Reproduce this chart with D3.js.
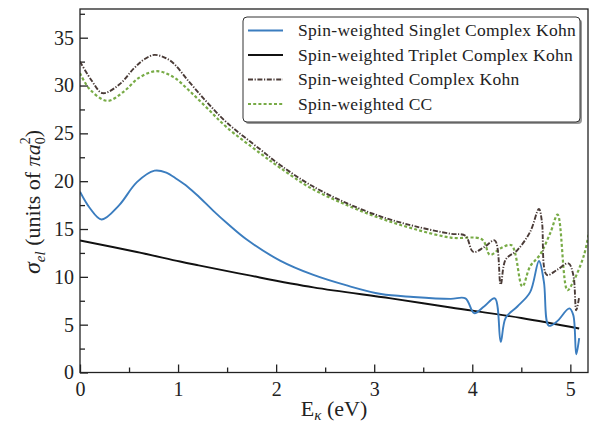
<!DOCTYPE html>
<html>
<head>
<meta charset="utf-8">
<script src="https://cdn.jsdelivr.net/npm/d3@7"></script>
<style>
  body { margin: 0; background: #fff; }
  svg text { font-family: "Liberation Serif", "DejaVu Serif", serif; fill: #222; }
</style>
</head>
<body>
<div id="chart"></div>
<script>
// energies (eV) and cross sections (units of pi a0^2)
const singletE = [0, 0.1, 0.22, 0.4, 0.58, 0.76, 0.88, 0.99, 1.1, 1.22, 1.36, 1.5, 1.7, 2.04, 2.38, 2.72, 3.07, 3.4, 3.78, 3.93, 4.02, 4.12, 4.23, 4.29, 4.34, 4.46, 4.59, 4.68, 4.73, 4.78, 4.86, 4.99, 5.03, 5.06, 5.09]
const singletSigma = [18.9, 17.2, 16.0, 17.5, 19.9, 21.1, 20.9, 20.2, 19.4, 18.3, 16.9, 15.6, 13.9, 11.7, 10.2, 9.1, 8.2, 7.9, 7.7, 7.75, 6.2, 6.9, 7.75, 3.2, 5.7, 6.9, 8.4, 11.65, 9.5, 4.9, 5.3, 6.7, 6.0, 1.9, 3.6]

const tripletE = [0, 0.58, 1.02, 1.21, 1.7, 2.38, 3.17, 3.78, 4.5, 5.09]
const tripletSigma = [13.8, 12.6, 11.6, 11.2, 10.2, 8.9, 7.75, 6.8, 5.7, 4.6]

const kohnE = [0, 0.12, 0.23, 0.4, 0.55, 0.65, 0.76, 0.92, 1.12, 1.3, 1.5, 1.84, 2.04, 2.35, 2.72, 3.07, 3.41, 3.78, 3.93, 4.01, 4.12, 4.23, 4.29, 4.34, 4.46, 4.59, 4.68, 4.71, 4.76, 4.86, 4.98, 5.03, 5.06, 5.09]
const kohnSigma = [32.5, 30.5, 29.2, 30.1, 31.8, 32.7, 33.2, 32.6, 30.3, 28.2, 26.1, 23.3, 21.7, 19.6, 17.7, 16.3, 15.3, 14.5, 14.3, 12.6, 13.1, 13.8, 9.2, 11.8, 12.8, 14.7, 17.1, 15.8, 10.2, 10.7, 11.4, 10.2, 6.5, 7.9]

const ccE = [0, 0.1, 0.28, 0.45, 0.6, 0.78, 0.95, 1.12, 1.3, 1.5, 1.84, 2.04, 2.35, 2.72, 3.07, 3.41, 3.78, 4.1, 4.18, 4.29, 4.4, 4.51, 4.59, 4.69, 4.8, 4.87, 4.97, 5.03, 5.14, 5.19]
const ccSigma = [31.3, 29.6, 28.4, 29.4, 30.8, 31.5, 30.9, 29.4, 27.6, 25.6, 22.9, 21.4, 19.3, 17.5, 16.1, 15.0, 14.1, 13.9, 12.3, 13.0, 13.3, 9.0, 11.1, 12.3, 14.7, 16.5, 8.6, 9.5, 12.3, 14.7]

const seriesNames = ["Spin-weighted Singlet Complex Kohn", "Spin-weighted Triplet Complex Kohn", "Spin-weighted Complex Kohn", "Spin-weighted CC"]
const seriesColors = ["#3b7dbf", "#111111", "#4a3b37", "#78ab46"]
const seriesDash = [null, null, "5,1.6,1.2,1.6", "3,2.2"]

const xTicks = [0, 1, 2, 3, 4, 5]
const xMinor = [0.5, 1.5, 2.5, 3.5, 4.5]
const yTicks = [0, 5, 10, 15, 20, 25, 30, 35]
const yMinor = [2.5, 7.5, 12.5, 17.5, 22.5, 27.5, 32.5, 37.5]

const W = 593, H = 423
const margin = {top: 9, right: 5, bottom: 50.5, left: 80}
const width = W - margin.left - margin.right
const height = H - margin.top - margin.bottom

const svg = d3.select("#chart").append("svg")
  .attr("width", W)
  .attr("height", H)

const g = svg.append("g").attr("transform", `translate(${margin.left},${margin.top})`)

const x = d3.scaleLinear().domain([0, 5.18]).range([0, width])
const y = d3.scaleLinear().domain([0, 38]).range([height, 0])

// clip
svg.append("defs").append("clipPath").attr("id", "clip")
  .append("rect").attr("width", width).attr("height", height)

// axes, ticks pointing in
const xAxis = g.append("g").attr("transform", `translate(0,${height})`)
  .call(d3.axisBottom(x).tickValues(xTicks).tickSize(-8).tickPadding(7).tickFormat(d3.format("d")))
const xAxisMinor = g.append("g").attr("transform", `translate(0,${height})`)
  .call(d3.axisBottom(x).tickValues(xMinor).tickSize(-5).tickFormat(""))
const yAxis = g.append("g")
  .call(d3.axisLeft(y).tickValues(yTicks).tickSize(-8).tickPadding(6).tickFormat(d3.format("d")))
const yAxisMinor = g.append("g")
  .call(d3.axisLeft(y).tickValues(yMinor).tickSize(-5).tickFormat(""))

g.selectAll(".domain").remove()
g.selectAll(".tick line").attr("stroke", "#222").attr("stroke-width", 1.3)
g.selectAll(".tick text").attr("font-size", "20px").attr("fill", "#222")
xAxis.selectAll(".tick text").attr("dy", "0.8em")

// lines
const seriesData = [
  d3.zip(singletE, singletSigma),
  d3.zip(tripletE, tripletSigma),
  d3.zip(kohnE, kohnSigma),
  d3.zip(ccE, ccSigma)
]
const line = d3.line()
  .x(d => x(d[0]))
  .y(d => y(d[1]))
  .curve(d3.curveCatmullRom.alpha(0.5))

const drawOrder = [1, 0, 3, 2]
g.append("g").attr("clip-path", "url(#clip)")
  .selectAll("path")
  .data(drawOrder)
  .enter()
  .append("path")
  .attr("d", i => line(seriesData[i]))
  .attr("fill", "none")
  .attr("stroke", i => seriesColors[i])
  .attr("stroke-width", i => i == 3 ? 2.2 : 1.9)
  .attr("stroke-dasharray", i => seriesDash[i])
  .attr("stroke-linejoin", "round")

// frame
g.append("rect")
  .attr("width", width)
  .attr("height", height)
  .attr("fill", "none")
  .attr("stroke", "#222")
  .attr("stroke-width", 1.3)

// legend
const legend = svg.append("g").attr("transform", "translate(243,17)")
legend.append("rect")
  .attr("x", 2).attr("y", 2)
  .attr("width", 337).attr("height", 105)
  .attr("rx", 4)
  .attr("fill", "#999")
legend.append("rect")
  .attr("width", 337).attr("height", 105)
  .attr("rx", 4)
  .attr("fill", "#fff")
  .attr("stroke", "#333")
  .attr("stroke-width", 1)

seriesNames.forEach(function(name, i){
  let yy = 13.5 + i * 24.5
  legend.append("line")
    .attr("x1", 5).attr("x2", 40)
    .attr("y1", yy).attr("y2", yy)
    .attr("stroke", seriesColors[i])
    .attr("stroke-width", i == 3 ? 2.2 : 1.9)
    .attr("stroke-dasharray", seriesDash[i])
  legend.append("text")
    .attr("x", 55)
    .attr("y", yy + 5.5)
    .attr("font-size", "17.5px")
    .attr("letter-spacing", "0.3px")
    .text(name)
})

// axis labels
const xl = svg.append("text")
  .attr("x", margin.left + width / 2)
  .attr("y", 416)
  .attr("text-anchor", "middle")
  .attr("font-size", "22px")
xl.append("tspan").text("E")
xl.append("tspan").attr("font-style", "italic").attr("font-size", "15px").attr("dy", 4).text("κ")
xl.append("tspan").attr("dy", -4).text(" (eV)")

const yl = svg.append("text")
  .attr("transform", "translate(40,202) rotate(-90)")
  .attr("text-anchor", "middle")
  .attr("font-size", "22px")
yl.append("tspan").attr("font-style", "italic").attr("font-size", "24px").text("σ")
yl.append("tspan").attr("font-style", "italic").attr("font-size", "15px").attr("dy", 5).text("el")
yl.append("tspan").attr("dy", -5).text(" (units of ")
yl.append("tspan").attr("font-style", "italic").text("πa")
yl.append("tspan").attr("font-size", "14px").attr("dy", -10).text("2")
yl.append("tspan").attr("font-size", "14px").attr("dx", -7).attr("dy", 15).text("0")
yl.append("tspan").attr("dy", -5).text(")")
</script>
</body>
</html>
